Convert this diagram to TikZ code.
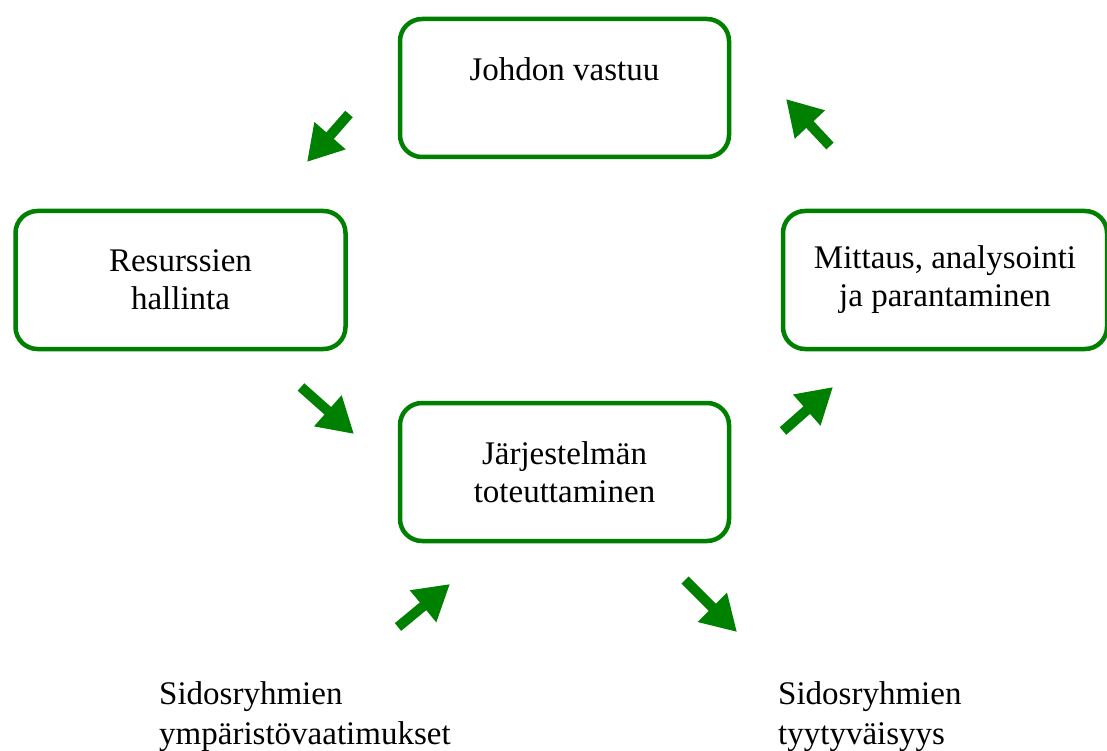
\documentclass[tikz,border=0pt]{standalone}
\usepackage{fontspec}
\setmainfont{Liberation Serif}
\usetikzlibrary{arrows.meta}
\definecolor{boxgreen}{RGB}{0,128,0}
\begin{document}
\begin{tikzpicture}[x=1pt,y=-1pt,
  box/.style={draw=boxgreen, line width=4.5pt, rounded corners=22pt, fill=white,
    align=center, font=\fontsize{33}{38}\selectfont, inner sep=0pt},
  blockarrow/.style={draw=boxgreen, line width=10pt,
    -{Triangle[length=35pt,width=39pt]}},
  plaintext/.style={align=left, anchor=west, inner sep=0pt,
    font=\fontsize{33}{40}\selectfont}]
\useasboundingbox (0,0) rectangle (1107,751);
% boxes
\node[box, minimum width=329pt, minimum height=138pt] (jv) at (564.5,88) {Johdon vastuu\\\mbox{}};
\node[box, minimum width=330pt, minimum height=138pt] (rh) at (180.5,280) {Resurssien\\hallinta};
\node[box, minimum width=324pt, minimum height=138pt] (map) at (945,280) {Mittaus, analysointi\\ja parantaminen};
\node[box, minimum width=329pt, minimum height=138pt] (jt) at (564.5,472) {Järjestelmän\\toteuttaminen};
% free texts
\node[plaintext] (sy) at (159,717) {Sidosryhmien\\ympäristövaatimukset};
\node[plaintext] (st) at (778,717) {Sidosryhmien\\tyytyväisyys};
% arrow end points
\coordinate (a1s) at (349,114); \coordinate (a1e) at (307,162);
\coordinate (a2s) at (830,146); \coordinate (a2e) at (786,99);
\coordinate (a3s) at (301,387); \coordinate (a3e) at (354,434);
\coordinate (a4s) at (783,431); \coordinate (a4e) at (833,387);
\coordinate (a5s) at (398,627); \coordinate (a5e) at (450,584);
\coordinate (a6s) at (685,580); \coordinate (a6e) at (737,632);
\foreach \i in {1,...,6}{\draw[blockarrow] (a\i s) -- (a\i e);}
\end{tikzpicture}
\end{document}
